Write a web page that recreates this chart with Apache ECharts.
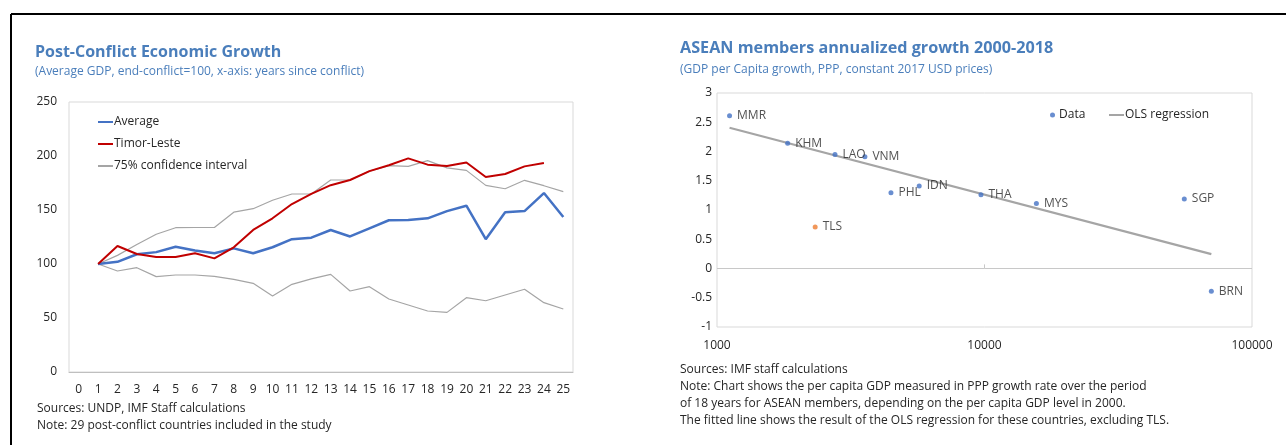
<!DOCTYPE html>
<html>
<head>
<meta charset="utf-8">
<script src="https://cdn.jsdelivr.net/npm/echarts@6/dist/echarts.min.js"></script>
<style>
  html, body { margin: 0; padding: 0; background: #fff; }
  #main { width: 1286px; height: 445px; }
</style>
</head>
<body>
<div id="main"></div>
<script>
  // left panel: years since conflict
  const years = ['0','1','2','3','4','5','6','7','8','9','10','11','12','13','14','15','16','17','18','19','20','21','22','23','24','25']
  const average = [null, 100, 102, 109, 111, 116, 112.5, 110, 114.5, 110, 115.5, 123, 124.4, 131.5, 125.5, 133, 140.5, 140.7, 142.3, 149, 154, 123, 148, 149, 165.7, 143.5]
  const timorLeste = [null, 100, 116.7, 109.3, 106.5, 106.5, 110, 105.2, 115.4, 131.5, 142.3, 155.5, 165, 173, 177.8, 186, 191.4, 197.8, 192, 190.7, 194, 180.5, 183.3, 190.4, 193.5, null]
  const ciUpper = [null, 100, 108, 118, 127.5, 133.6, 133.8, 133.8, 148, 151.2, 159, 164.8, 164.8, 177.8, 177.8, 186, 191, 190.4, 195.7, 189, 186.7, 172.8, 169.7, 177.5, 172.5, 167]
  const ciLower = [null, 100, 93.5, 96.6, 88.3, 89.8, 89.8, 88.6, 85.8, 82.1, 70.4, 81.2, 86.2, 90.4, 75, 79, 67.6, 62, 56.5, 55.2, 68.8, 66, 71.3, 76.6, 64.2, 58.3]

  // right panel: ASEAN members
  const countries = ['MMR', 'KHM', 'LAO', 'VNM', 'PHL', 'IDN', 'THA', 'MYS', 'SGP', 'BRN']
  const gdp2000 = [1114, 1837, 2761, 3572, 4470, 5700, 9700, 15630, 55840, 70470]
  const growth = [2.61, 2.14, 1.95, 1.91, 1.295, 1.41, 1.26, 1.11, 1.19, -0.39]
  const tlsGdp = [2328]
  const tlsGrowth = [0.71]
  const olsX = [1114, 70470]
  const olsY = [2.407, 0.245]
  const xTicks = [1000, 10000, 100000]

  const titleColor = '#4a7ebb'
  const textColor = '#262626'
  const fontFam = '"Open Sans", "Noto Sans", sans-serif'

  function txt(x, y, text, size, color, weight) {
    return {
      type: 'text', x: x, y: y, silent: true,
      style: {
        text: text, fill: color || textColor,
        font: (weight || 'normal') + ' ' + size + 'px ' + fontFam,
        textVerticalAlign: 'middle'
      }
    }
  }

  const myChart = echarts.init(document.getElementById('main'))
  const option = {
    animation: false,
    backgroundColor: '#fff',
    textStyle: { fontFamily: fontFam },
    graphic: [
      { type: 'line', silent: true, shape: { x1: 11, y1: 14, x2: 1286, y2: 14 }, style: { stroke: '#000', lineWidth: 2 } },
      { type: 'line', silent: true, shape: { x1: 11, y1: 14, x2: 11, y2: 445 }, style: { stroke: '#000', lineWidth: 2 } },
      txt(35, 52, 'Post-Conflict Economic Growth', 16, titleColor, 'bold'),
      txt(35, 72, '(Average GDP, end-conflict=100, x-axis: years since conflict)', 12, titleColor),
      txt(37, 409, 'Sources: UNDP, IMF Staff calculations', 12),
      txt(37, 426, 'Note: 29 post-conflict countries included in the study', 12),
      txt(680, 48, 'ASEAN members annualized growth 2000-2018', 16.2, titleColor, 'bold'),
      txt(680, 70, '(GDP per Capita growth, PPP, constant 2017 USD prices)', 12, titleColor),
      txt(680, 370, 'Sources: IMF staff calculations', 12),
      txt(680, 387, 'Note: Chart shows the per capita GDP measured in PPP growth rate over the period', 12),
      txt(680, 404, 'of 18 years for ASEAN members, depending on the per capita GDP level in 2000.', 12),
      txt(680, 421, 'The fitted line shows the result of the OLS regression for these countries, excluding TLS.', 12)
    ],
    legend: [
      {
        orient: 'vertical', left: 93, top: 111, itemWidth: 15, itemHeight: 2, itemGap: 10,
        textStyle: { fontSize: 12, color: textColor, padding: [0, 0, 0, -4] },
        data: [
          { name: 'Average', icon: 'rect' },
          { name: 'Timor-Leste', icon: 'rect' },
          { name: '75% confidence interval', icon: 'rect' }
        ]
      },
      {
        left: 1045, top: 104, itemWidth: 5, itemHeight: 5,
        textStyle: { fontSize: 12, color: textColor, padding: [0, 0, 0, -1] },
        data: [{ name: 'Data', icon: 'circle' }]
      },
      {
        left: 1104, top: 104, itemWidth: 15, itemHeight: 2,
        textStyle: { fontSize: 12, color: textColor, padding: [0, 0, 0, -4] },
        data: [{ name: 'OLS regression', icon: 'rect' }]
      }
    ],
    grid: [
      { left: 69, top: 102, width: 504, height: 270, show: true, borderColor: '#d9d9d9', borderWidth: 1 },
      { left: 717, top: 93, width: 535, height: 234, show: true, borderColor: '#d9d9d9', borderWidth: 1 }
    ],
    xAxis: [
      {
        gridIndex: 0, type: 'category', data: years, boundaryGap: true,
        axisLine: { lineStyle: { color: '#bfbfbf' } },
        axisTick: { inside: true, length: 4, lineStyle: { color: '#bfbfbf' } },
        axisLabel: { color: textColor, fontSize: 12, margin: 12, interval: 0 }
      },
      {
        gridIndex: 1, type: 'log', logBase: 10, min: 1000, max: 100000,
        axisLine: { show: false }, axisTick: { show: false }, splitLine: { show: false },
        axisLabel: { color: textColor, fontSize: 12, margin: 13, formatter: function (v) { return String(Math.round(v)) } }
      }
    ],
    yAxis: [
      {
        gridIndex: 0, type: 'value', min: 0, max: 250, interval: 50,
        axisLine: { show: false }, axisTick: { show: false }, splitLine: { show: false },
        axisLabel: { color: textColor, fontSize: 12, margin: 12 }
      },
      {
        gridIndex: 1, type: 'value', min: -1, max: 3, interval: 0.5,
        axisLine: { show: false }, axisTick: { show: false }, splitLine: { show: false },
        axisLabel: { color: textColor, fontSize: 12, margin: 5 }
      }
    ],
    series: [
      {
        name: '75% confidence interval', type: 'line', xAxisIndex: 0, yAxisIndex: 0,
        data: ciUpper, symbol: 'none', lineStyle: { color: '#a5a5a5', width: 1.2 }, itemStyle: { color: '#a5a5a5' }
      },
      {
        name: '75% confidence interval', type: 'line', xAxisIndex: 0, yAxisIndex: 0,
        data: ciLower, symbol: 'none', lineStyle: { color: '#a5a5a5', width: 1.2 }, itemStyle: { color: '#a5a5a5' }
      },
      {
        name: 'Average', type: 'line', xAxisIndex: 0, yAxisIndex: 0,
        data: average, symbol: 'none', lineStyle: { color: '#4472c4', width: 2.5 }, itemStyle: { color: '#4472c4' }
      },
      {
        name: 'Timor-Leste', type: 'line', xAxisIndex: 0, yAxisIndex: 0,
        data: timorLeste, symbol: 'none', lineStyle: { color: '#c00000', width: 2 }, itemStyle: { color: '#c00000' }
      },
      {
        name: 'OLS regression', type: 'line', xAxisIndex: 1, yAxisIndex: 1, z: 3,
        data: olsX.map(function (x, i) { return [x, olsY[i]] }),
        symbol: 'none', lineStyle: { color: '#a5a5a5', width: 2.2 }, itemStyle: { color: '#a5a5a5' },
        markLine: {
          silent: true, symbol: 'none', label: { show: false },
          lineStyle: { color: '#c8c8c8', type: 'solid', width: 1 },
          data: [
            // x axis line crossing at y = 0, plus the inner tick at 10000
            [{ coord: [xTicks[0], 0] }, { coord: [xTicks[2], 0] }],
            [{ coord: [xTicks[1], 0] }, { coord: [xTicks[1], 0.07] }]
          ]
        }
      },
      {
        name: 'Data', type: 'scatter', xAxisIndex: 1, yAxisIndex: 1, z: 4,
        data: countries.map(function (c, i) { return [gdp2000[i], growth[i], c] }),
        symbol: 'circle', symbolSize: 5, itemStyle: { color: '#4472c4' },
        label: {
          show: true, position: 'right', distance: 5, color: textColor, fontSize: 12,
          formatter: function (p) { return p.value[2] }
        }
      },
      {
        name: 'TLS', type: 'scatter', xAxisIndex: 1, yAxisIndex: 1, z: 4,
        data: tlsGdp.map(function (x, i) { return [x, tlsGrowth[i], 'TLS'] }),
        symbol: 'circle', symbolSize: 5, itemStyle: { color: '#ed7d31' },
        label: {
          show: true, position: 'right', distance: 5, color: textColor, fontSize: 12,
          formatter: function (p) { return p.value[2] }
        }
      }
    ]
  }
  myChart.setOption(option)
</script>
</body>
</html>
